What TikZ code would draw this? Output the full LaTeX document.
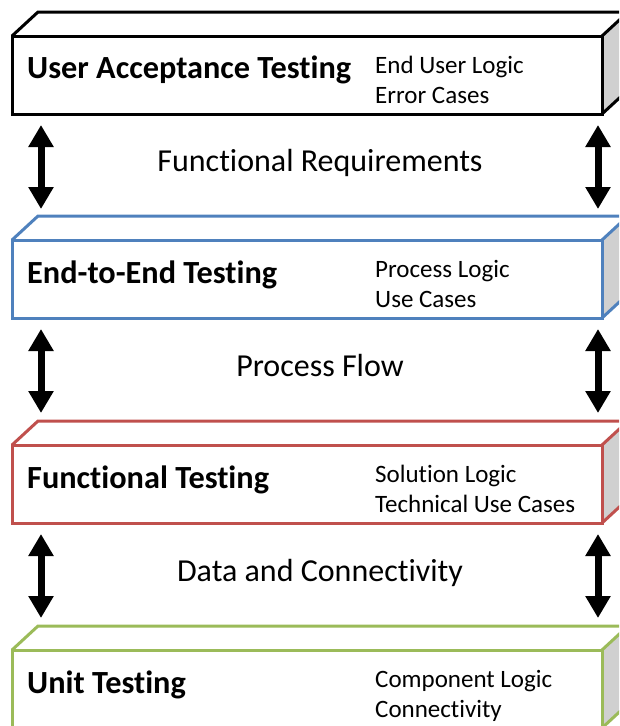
\documentclass[tikz,border=0pt]{standalone}
\usepackage{fontspec}
\setmainfont{Carlito}[Ligatures=NoCommon]
\usetikzlibrary{arrows.meta}

\definecolor{uatcol}{RGB}{0,0,0}
\definecolor{e2ecol}{RGB}{79,129,189}
\definecolor{ftcol}{RGB}{192,80,77}
\definecolor{utcol}{RGB}{155,187,89}
\definecolor{sideface}{RGB}{208,208,208}

\tikzset{
  boxline/.style={line width=3pt, line join=miter},
  levelname/.style={anchor=base west, inner sep=0pt, font=\fontsize{32.3}{38}\selectfont\bfseries},
  leveldetail/.style={anchor=base west, inner sep=0pt, align=left,
    font=\fontsize{25}{30}\selectfont},
  linklabel/.style={anchor=base, inner sep=0pt, font=\fontsize{32}{38}\selectfont},
  bigarrow/.style={line width=7pt, {Triangle[width=24pt,length=22pt]}-{Triangle[width=24pt,length=22pt]}}
}

% one testing level: a flat box seen from above-front
% #1 top edge y, #2 colour
\newcommand{\levelbox}[2]{%
  \fill[white] (12,#1+24) -- (38,#1) -- (628,#1) -- (602,#1+24) -- cycle;
  \fill[sideface] (602,#1+24) -- (628,#1) -- (628,#1+78) -- (602,#1+102) -- cycle;
  \draw[boxline,draw=#2] (12,#1+24) rectangle (602,#1+102);
  \draw[boxline,draw=#2] (12,#1+24) -- (38,#1) -- (628,#1);
  \draw[boxline,draw=#2] (602,#1+24) -- (628,#1);
  \draw[boxline,draw=#2] (602,#1+102) -- (628,#1+78);
}

\begin{document}
\begin{tikzpicture}[x=1pt,y=-1pt]
\useasboundingbox (0,0) rectangle (619,726);
\clip (0,0) rectangle (619,726);

\levelbox{12}{uatcol}
\levelbox{216}{e2ecol}
\levelbox{421}{ftcol}
\levelbox{626}{utcol}

% level names and details (detail anchors sit on the second line's baseline)
\node[levelname] (uat) at (27,78) {User Acceptance Testing};
\node[leveldetail] (uatd) at (375,103) {End User Logic\\Error Cases};
\node[levelname] (e2e) at (27,283) {End-to-End Testing};
\node[leveldetail] (e2ed) at (375,307) {Process Logic\\Use Cases};
\node[levelname] (ft) at (27,488) {Functional Testing};
\node[leveldetail] (ftd) at (375,512) {Solution Logic\\Technical Use Cases};
\node[levelname] (ut) at (27,693) {Unit Testing};
\node[leveldetail] (utd) at (375,717) {Component Logic\\Connectivity};

% labels between levels
\node[linklabel] (l1) at (320,171) {Functional Requirements};
\node[linklabel] (l2) at (320,376) {Process Flow};
\node[linklabel] (l3) at (320,581) {Data and Connectivity};

% double arrows between levels
\foreach \t/\n in {12/a,216/b,421/c}{
  \coordinate (la\n) at (41,\t+113);
  \coordinate (lb\n) at (41,\t+197);
  \coordinate (ra\n) at (598,\t+113);
  \coordinate (rb\n) at (598,\t+197);
  \draw[bigarrow] (la\n) -- (lb\n);
  \draw[bigarrow] (ra\n) -- (rb\n);
}
\end{tikzpicture}
\end{document}
